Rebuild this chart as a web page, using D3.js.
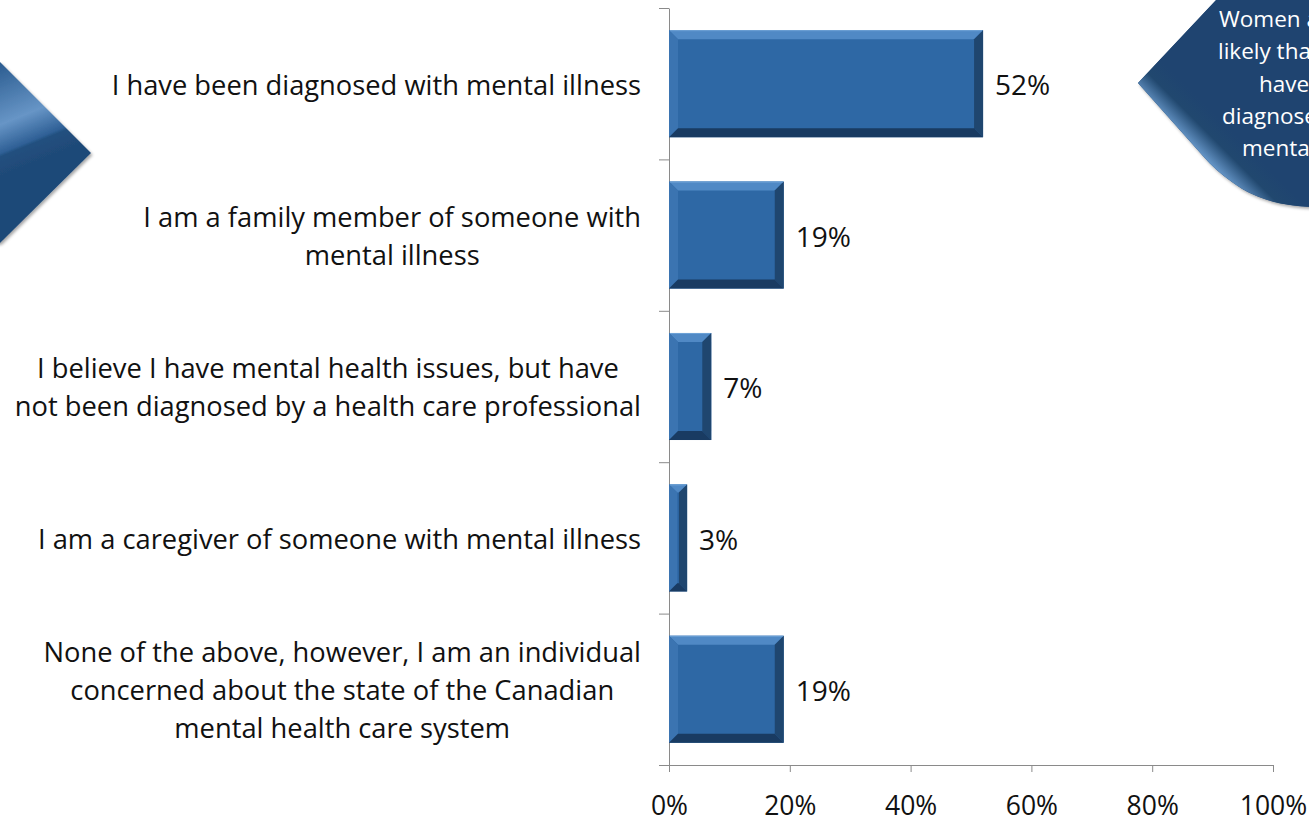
<!DOCTYPE html>
<html><head><meta charset="utf-8">
<script src="https://cdn.jsdelivr.net/npm/d3@7"></script>
<style>
html,body{margin:0;padding:0;background:#fff;overflow:hidden}
svg{display:block}
text{font-family:"Open Sans",sans-serif}
</style></head><body>
<svg id="chart" width="1309" height="816"></svg>
<script>
// Survey responses: share of respondents per self-description
const categories = [
  ["I have been diagnosed with mental illness"],
  ["I am a family member of someone with", "mental illness"],
  ["I believe I have mental health issues, but have", "not been diagnosed by a health care professional"],
  ["I am a caregiver of someone with mental illness"],
  ["None of the above, however, I am an individual", "concerned about the state of the Canadian", "mental health care system"]
];
const values = [52, 19, 7, 3, 19];
const tickValues = [0, 20, 40, 60, 80, 100];
const calloutLines = ["Women are more", "likely than men to", "have been", "diagnosed with a", "mental illness"];

const svg = d3.select("#chart");
const keys = categories.map(c => c.join(" "));
const labelSize = 27.3;
const valueSize = 28;
const tickSize = 26.5;

const x = d3.scaleLinear().domain([0, 100]).range([669, 1273]);
const y = d3.scaleBand().domain(keys).range([8, 765]).paddingInner(0.293).paddingOuter(0.1465);
const yEdges = d3.scaleLinear().domain([0, keys.length]).range([8, 765]);

const defs = svg.append("defs");

// ---- decorative chevron on the left edge
const chevGrad = defs.append("linearGradient").attr("id", "chevGrad")
  .attr("gradientUnits", "userSpaceOnUse").attr("x1", 0).attr("y1", 62).attr("x2", 40).attr("y2", 160);
chevGrad.append("stop").attr("offset", 0).attr("stop-color", "#2a5b8f");
chevGrad.append("stop").attr("offset", 0.55).attr("stop-color", "#6795c6");
chevGrad.append("stop").attr("offset", 0.8).attr("stop-color", "#2f6096");
chevGrad.append("stop").attr("offset", 0.83).attr("stop-color", "#22507f");
chevGrad.append("stop").attr("offset", 1).attr("stop-color", "#1f4a78");

const shadow = defs.append("filter").attr("id", "shadow").attr("x", -0.2).attr("y", -0.2).attr("width", 1.5).attr("height", 1.5);
shadow.append("feDropShadow").attr("dx", 1.5).attr("dy", 2).attr("stdDeviation", 1.5).attr("flood-color", "#000").attr("flood-opacity", 0.35);

svg.append("path")
  .attr("d", "M-30,62 L0,62 L91,153 L0,243 L-30,243 Z")
  .attr("fill", "url(#chevGrad)")
  .attr("filter", "url(#shadow)");

// ---- callout on the right edge
const callGrad = defs.append("linearGradient").attr("id", "callGrad")
  .attr("gradientUnits", "userSpaceOnUse").attr("x1", 1200).attr("y1", 100).attr("x2", 1172).attr("y2", 128);
callGrad.append("stop").attr("offset", 0).attr("stop-color", "#1f4470");
callGrad.append("stop").attr("offset", 0.45).attr("stop-color", "#21486f");
callGrad.append("stop").attr("offset", 1).attr("stop-color", "#6c9dd0");

const calloutPath = "M1138,83 L1218,-2 L1320,-2 L1320,207 C1285,207 1256,200 1232,182 Q1215,170 1203,156 Z";
svg.append("path").attr("d", calloutPath).attr("fill", "#1f4470").attr("filter", "url(#shadow)");
svg.append("path").attr("d", calloutPath).attr("fill", "url(#callGrad)");

const calloutX = [1219, 1218, 1259, 1222, 1242];
svg.append("g").selectAll("text").data(calloutLines).join("text")
  .attr("x", (d, i) => calloutX[i])
  .attr("y", (d, i) => 27 + i * 32.3)
  .attr("fill", "#ffffff")
  .attr("font-size", 22.5)
  .text(d => d);

// ---- axes
const axisColor = "#8a8a8a";
const yAxis = svg.append("g").attr("transform", `translate(${x(0)},0)`)
  .call(d3.axisLeft(yEdges).tickValues(d3.range(keys.length + 1)).tickSize(10).tickSizeOuter(0).tickFormat(""));
yAxis.selectAll("path,line").attr("stroke", axisColor);

const xAxis = svg.append("g").attr("transform", `translate(0,${y.range()[1]})`)
  .call(d3.axisBottom(x).tickValues(tickValues).tickSize(7).tickSizeOuter(0).tickPadding(24).tickFormat(d => d + "%"));
xAxis.selectAll("path,line").attr("stroke", axisColor);
xAxis.selectAll("text")
  .attr("font-family", "Open Sans, sans-serif")
  .attr("font-size", tickSize)
  .attr("fill", "#111");

// ---- beveled bars
const bevel = {
  face: "#2e68a5", top: "#5089c5", left: "#3b74b1", right: "#1f466f", bottom: "#193b62"
};
const bars = svg.append("g");
keys.forEach((k, i) => {
  const x0 = x(0), x1 = x(values[i]), y0 = y(k), h = y.bandwidth(), y1 = y0 + h;
  const b = Math.min(9, (x1 - x0) / 2.2);
  const g = bars.append("g");
  g.append("rect").attr("x", x0).attr("y", y0).attr("width", x1 - x0).attr("height", h).attr("fill", bevel.face);
  const poly = (pts, c) => g.append("polygon").attr("points", pts.map(p => p.join(",")).join(" ")).attr("fill", c);
  poly([[x0, y0], [x1, y0], [x1 - b, y0 + b], [x0 + b, y0 + b]], bevel.top);
  poly([[x0, y0], [x0 + b, y0 + b], [x0 + b, y1 - b], [x0, y1]], bevel.left);
  poly([[x1, y0], [x1, y1], [x1 - b, y1 - b], [x1 - b, y0 + b]], bevel.right);
  poly([[x0, y1], [x1, y1], [x1 - b, y1 - b], [x0 + b, y1 - b]], bevel.bottom);
  g.append("line").attr("x1", x0 + 1).attr("x2", x1 - 1).attr("y1", y0 + 0.5).attr("y2", y0 + 0.5)
    .attr("stroke", "#6ea2d6").attr("stroke-width", 1);
});

// ---- value labels
svg.append("g").selectAll("text").data(keys).join("text")
  .attr("x", (k, i) => x(values[i]) + 12)
  .attr("y", k => y(k) + y.bandwidth() / 2)
  .attr("dy", "0.42em")
  .attr("font-size", valueSize)
  .attr("fill", "#111")
  .text((k, i) => values[i] + "%");

// ---- category labels: centered block, right-aligned to the axis
const lineH = 38;
const labelRight = 641;
keys.forEach((k, i) => {
  const lines = categories[i];
  const g = svg.append("g");
  const texts = g.selectAll("text").data(lines).join("text")
    .attr("font-size", labelSize)
    .attr("fill", "#111")
    .attr("text-anchor", "middle")
    .attr("dy", "0.4em")
    .text(d => d);
  let w = 0;
  texts.each(function () { w = Math.max(w, this.getComputedTextLength()); });
  const cx = labelRight - w / 2;
  const cy = y(k) + y.bandwidth() / 2;
  texts.attr("x", cx).attr("y", (d, j) => cy + (j - (lines.length - 1) / 2) * lineH);
});
</script>
</body></html>
